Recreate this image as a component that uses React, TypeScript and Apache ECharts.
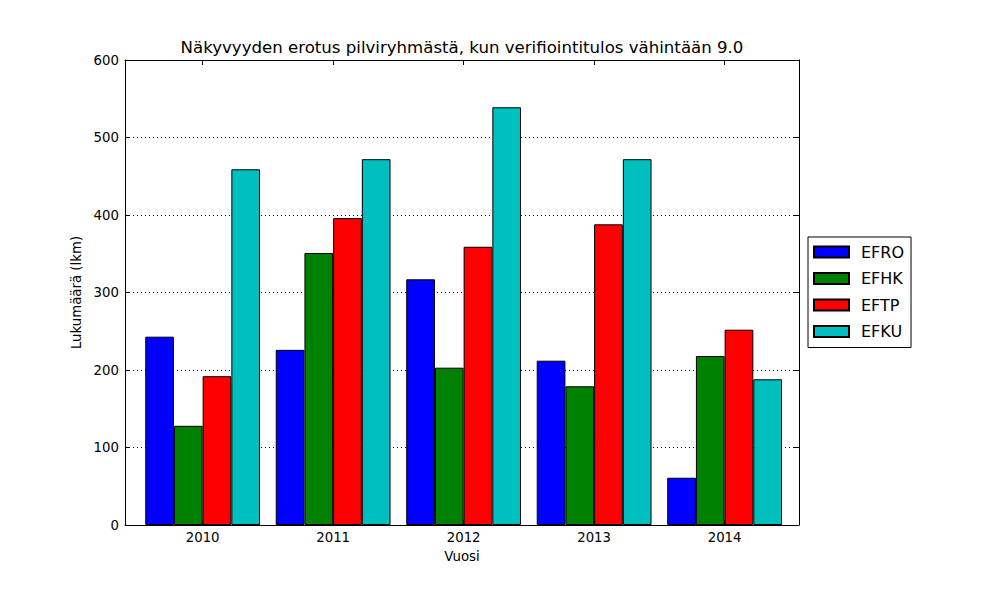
import React, { useEffect, useRef } from "react";
import * as echarts from "echarts";

const years = ["2010", "2011", "2012", "2013", "2014"];
const seriesNames = ["EFRO", "EFHK", "EFTP", "EFKU"];
const efro = [243, 226, 317, 212, 61];
const efhk = [128, 351, 203, 179, 218];
const eftp = [192, 396, 359, 388, 252];
const efku = [459, 472, 539, 472, 188];
const yTicks = [0, 100, 200, 300, 400, 500, 600];
const colors = ["#0000ff", "#008000", "#ff0000", "#00bfbf"];

const FONT = "DejaVu Sans";

export default function App() {
  const ref = useRef<HTMLDivElement>(null);

  useEffect(() => {
    if (!ref.current) return;
    const chart = echarts.init(ref.current, null, { renderer: "svg" });
    const allValues = [efro, efhk, eftp, efku];
    const tickPos = years.map((_, i) => i);
    const xMin = -0.595;
    const xMax = 4.57;

    const series = allValues.map((vals, si) => ({
      name: seriesNames[si],
      type: "bar",
      xAxisIndex: 0,
      yAxisIndex: 0,
      barWidth: 28.7,
      barGap: "0%",
      data: vals.map((v, i) => [i, v]),
      itemStyle: { color: colors[si], borderColor: "#000", borderWidth: 1 },
    }));

    const axisLine = { show: true, onZero: false, lineStyle: { color: "#000", width: 1 } };

    const option: any = {
      animation: false,
      backgroundColor: "#fff",
      textStyle: { fontFamily: FONT },
      title: {
        text: "Näkyvyyden erotus pilviryhmästä, kun verifiointitulos vähintään 9.0",
        left: 462,
        top: 39,
        padding: 0,
        textAlign: "center",
        textStyle: { fontFamily: FONT, fontSize: 16.6, fontWeight: "normal", color: "#000" },
      },
      legend: {
        orient: "vertical",
        left: 808,
        top: 237,
        data: seriesNames,
        icon: "rect",
        itemWidth: 35,
        itemHeight: 11,
        itemGap: 10.5,
        padding: [7, 7, 8, 5],
        borderColor: "#000",
        borderWidth: 1,
        backgroundColor: "#fff",
        textStyle: {
          fontFamily: FONT,
          fontSize: 16,
          color: "#000",
          lineHeight: 16,
          padding: [0, 0, 0, 7],
        },
      },
      grid: { left: 125, top: 60, width: 674, height: 465, containLabel: false },
      xAxis: [
        {
          type: "value",
          position: "bottom",
          min: xMin,
          max: xMax,
          name: "Vuosi",
          nameLocation: "middle",
          nameGap: 25,
          nameTextStyle: { fontFamily: FONT, fontSize: 13.3, color: "#000" },
          axisLine,
          axisTick: { show: true, inside: true, length: 5, customValues: tickPos, lineStyle: { color: "#000" } },
          axisLabel: {
            show: true,
            customValues: tickPos,
            formatter: (v: number) => years[Math.round(v)] ?? "",
            fontFamily: FONT,
            fontSize: 13.3,
            color: "#000",
            margin: 6,
          },
          splitLine: { show: false },
        },
        {
          type: "value",
          position: "top",
          min: xMin,
          max: xMax,
          axisLine,
          axisTick: { show: true, inside: true, length: 5, customValues: tickPos, lineStyle: { color: "#000" } },
          axisLabel: { show: false },
          splitLine: { show: false },
        },
      ],
      yAxis: [
        {
          type: "value",
          position: "left",
          min: yTicks[0],
          max: yTicks[yTicks.length - 1],
          interval: 100,
          name: "Lukumäärä (lkm)",
          nameLocation: "middle",
          nameGap: 38,
          nameTextStyle: { fontFamily: FONT, fontSize: 13.3, color: "#000" },
          axisLine,
          axisTick: { show: true, inside: true, length: 5, lineStyle: { color: "#000" } },
          axisLabel: { fontFamily: FONT, fontSize: 13.3, color: "#000", margin: 6 },
          splitLine: { show: true, lineStyle: { color: "#000", type: [1, 3], width: 1 } },
        },
        {
          type: "value",
          position: "right",
          min: yTicks[0],
          max: yTicks[yTicks.length - 1],
          interval: 100,
          axisLine,
          axisTick: { show: true, inside: true, length: 5, lineStyle: { color: "#000" } },
          axisLabel: { show: false },
          splitLine: { show: false },
        },
      ],
      series,
    };
    chart.setOption(option);
    return () => chart.dispose();
  }, []);

  return <div ref={ref} style={{ width: 1000, height: 600, position: "absolute", left: 0, top: 0 }} />;
}
